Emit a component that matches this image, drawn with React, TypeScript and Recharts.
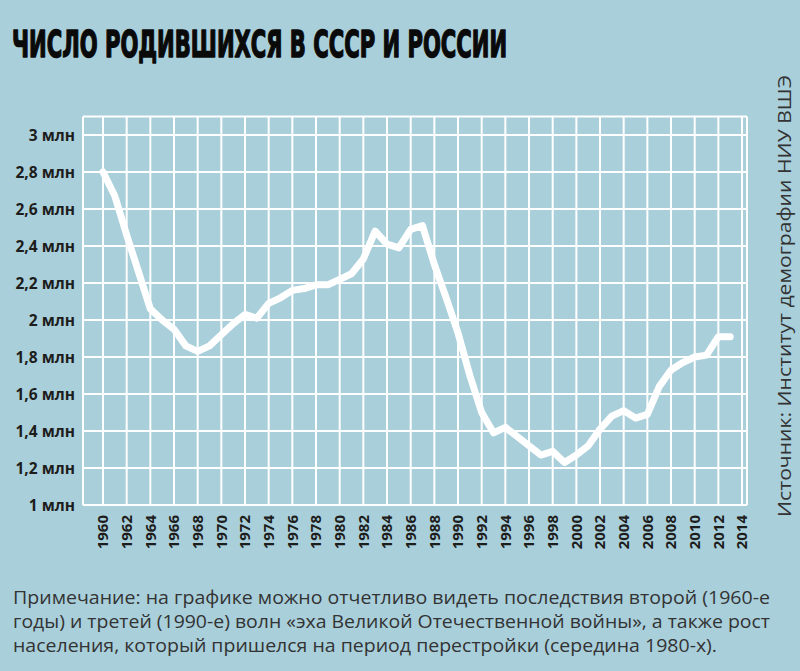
import { useLayoutEffect, useRef, useState } from "react";
import { CartesianGrid, Line, LineChart, XAxis, YAxis } from "recharts";

const BG = "#a9cfdb";
const INK = "#1d1d1b";

const YEARS = [
  1960, 1961, 1962, 1963, 1964, 1965, 1966, 1967, 1968, 1969,
  1970, 1971, 1972, 1973, 1974, 1975, 1976, 1977, 1978, 1979,
  1980, 1981, 1982, 1983, 1984, 1985, 1986, 1987, 1988, 1989,
  1990, 1991, 1992, 1993, 1994, 1995, 1996, 1997, 1998, 1999,
  2000, 2001, 2002, 2003, 2004, 2005, 2006, 2007, 2008, 2009,
  2010, 2011, 2012, 2013,
];

// births, millions
const BIRTHS = [
  2.8, 2.67, 2.46, 2.26, 2.06, 2.0, 1.95, 1.86, 1.83, 1.86,
  1.92, 1.98, 2.03, 2.01, 2.09, 2.12, 2.16, 2.17, 2.19, 2.19,
  2.22, 2.25, 2.33, 2.48, 2.41, 2.39, 2.49, 2.51, 2.3, 2.12,
  1.93, 1.7, 1.5, 1.39, 1.42, 1.37, 1.32, 1.27, 1.29, 1.23,
  1.27, 1.32, 1.41, 1.48, 1.51, 1.47, 1.49, 1.64, 1.73, 1.77,
  1.8, 1.81, 1.91, 1.91,
];

const X_TICKS = [
  1960, 1962, 1964, 1966, 1968, 1970, 1972, 1974, 1976, 1978, 1980, 1982, 1984, 1986,
  1988, 1990, 1992, 1994, 1996, 1998, 2000, 2002, 2004, 2006, 2008, 2010, 2012, 2014,
];
const Y_TICKS = [1, 1.2, 1.4, 1.6, 1.8, 2, 2.2, 2.4, 2.6, 2.8, 3];

const TITLE = "ЧИСЛО РОДИВШИХСЯ В СССР И РОССИИ";
const SOURCE = "Источник: Институт демографии НИУ ВШЭ";
const NOTE_LINES = [
  "Примечание: на графике можно отчетливо видеть последствия второй (1960-е",
  "годы) и третей (1990-е) волн «эха Великой Отечественной войны», а также рост",
  "населения, который пришелся на период перестройки (середина 1980-х).",
];
const NOTE_WIDTHS = [757, 757, 704];

const data = YEARS.map((year, i) => ({ year, births: BIRTHS[i] }));

const fmtMln = (v: number) => {
  const s = Number.isInteger(v) ? String(v) : v.toFixed(1).replace(".", ",");
  return `${s} млн`;
};

function YearTick({ x, y, payload }: any) {
  const ty = y + 2;
  return (
    <text
      x={x}
      y={ty}
      transform={`rotate(-90, ${x}, ${ty})`}
      textAnchor="end"
      dy="0.36em"
      fill={INK}
      fontSize={15}
      fontWeight={700}
      fontFamily="'Open Sans', sans-serif"
    >
      {payload.value}
    </text>
  );
}

// squeeze the heavy title horizontally to the reference width
function Title() {
  const ref = useRef<SVGTextElement>(null);
  const [sx, setSx] = useState(0.57);
  useLayoutEffect(() => {
    if (ref.current) {
      const w = ref.current.getComputedTextLength();
      if (w > 0) setSx(495 / w);
    }
  }, []);
  return (
    <g transform={`translate(12, 57) scale(${sx}, 1)`}>
      <text
        ref={ref}
        x={0}
        y={0}
        fontFamily="'DejaVu Sans', sans-serif"
        fontWeight={700}
        fontSize={38}
        fill="#0a0a0a"
        stroke="#0a0a0a"
        strokeWidth={1.6}
        strokeLinejoin="round"
      >
        {TITLE}
      </text>
    </g>
  );
}

export default function App() {
  return (
    <div
      style={{
        position: "absolute",
        top: 0,
        left: 0,
        width: 800,
        height: 671,
        background: BG,
        overflow: "hidden",
      }}
    >
      <LineChart
        width={800}
        height={671}
        data={data}
        margin={{ top: 116.5, right: 53, bottom: 116, left: 0 }}
      >
        <CartesianGrid stroke="#ffffff" strokeWidth={2} strokeOpacity={1} />
        <XAxis
          type="number"
          dataKey="year"
          domain={[1958.31, 2014.42]}
          ticks={X_TICKS}
          interval={0}
          allowDataOverflow
          axisLine={false}
          tickLine={false}
          height={50}
          tick={<YearTick />}
        />
        <YAxis
          type="number"
          domain={[1, 3.1]}
          ticks={Y_TICKS}
          interval={0}
          allowDataOverflow
          axisLine={false}
          tickLine={false}
          width={83}
          tickFormatter={fmtMln}
          tick={{ fill: INK, fontSize: 15.5, fontWeight: 700, fontFamily: "'Open Sans', sans-serif" }}
        />
        <Line
          type="linear"
          dataKey="births"
          stroke="#ffffff"
          strokeWidth={7}
          strokeLinecap="round"
          strokeLinejoin="round"
          dot={false}
          activeDot={false}
          isAnimationActive={false}
        />
      </LineChart>
      <svg
        width={800}
        height={671}
        style={{ position: "absolute", top: 0, left: 0, pointerEvents: "none" }}
      >
        <Title />
        <text
          x={791}
          y={517}
          transform="rotate(-90, 791, 517)"
          fontFamily="'Open Sans', sans-serif"
          fontSize={19}
          fill="#333333"
          textLength={442}
          lengthAdjust="spacingAndGlyphs"
        >
          {SOURCE}
        </text>
        {NOTE_LINES.map((line, i) => (
          <text
            key={i}
            x={13}
            y={604 + i * 24}
            fontFamily="'Open Sans', sans-serif"
            fontSize={18}
            fill="#333333"
            textLength={NOTE_WIDTHS[i]}
            lengthAdjust="spacingAndGlyphs"
          >
            {line}
          </text>
        ))}
      </svg>
    </div>
  );
}
